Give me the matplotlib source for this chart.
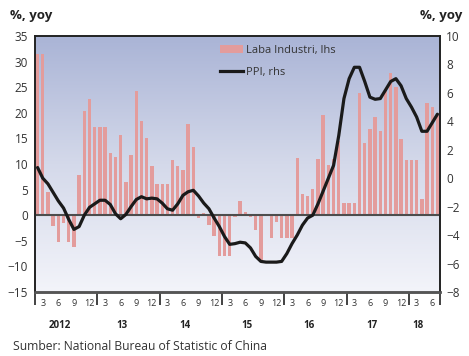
import numpy as np
import matplotlib
matplotlib.use("Agg")
import matplotlib.pyplot as plt
from matplotlib.transforms import blended_transform_factory, ScaledTranslation
from matplotlib.colors import LinearSegmentedColormap
from matplotlib.patches import Patch
from matplotlib.lines import Line2D

plt.rcParams['font.family'] = ['Open Sans', 'DejaVu Sans']

# Monthly series, Jan 2012 .. Jun 2018
year_labels = ["2012", "13", "14", "15", "16", "17", "18"]
month_ticks = [3, 6, 9, 12]

# Industrial profit growth, %, yoy (left axis)
laba_industri = [
    31.5, 31.5, 4.5, -2.1, -5.2, -1.6, -5.3, -6.2, 7.8, 20.4, 22.7, 17.3,
    17.3, 17.3, 12.1, 11.3, 15.6, 6.4, 11.7, 24.2, 18.4, 15.1, 9.7, 6.0,
    6.0, 6.0, 10.7, 9.7, 8.9, 17.9, 13.4, -0.5, 0.5, -2.0, -4.0, -7.9,
    -7.9, -7.9, -0.4, 2.7, 0.6, -0.3, -2.8, -8.8, 0.0, -4.5, -1.3, -4.5,
    -4.5, -4.5, 11.1, 4.2, 3.8, 5.1, 11.0, 19.5, 9.9, 11.0, 14.5, 2.3,
    2.3, 2.3, 23.8, 14.1, 16.8, 19.1, 16.5, 24.3, 27.7, 25.1, 14.9, 10.7,
    10.7, 10.7, 3.1, 21.9, 21.1, 20.0,
]

# Producer price index, %, yoy (right axis)
ppi = [
    0.75, 0.0, -0.4, -1.0, -1.6, -2.1, -2.9, -3.6, -3.4, -2.6, -2.05, -1.8,
    -1.55, -1.55, -1.85, -2.5, -2.85, -2.55, -2.0, -1.5, -1.3, -1.45, -1.4, -1.45,
    -1.75, -2.15, -2.25, -1.8, -1.2, -0.95, -0.85, -1.25, -1.75, -2.15, -2.8, -3.4,
    -4.1, -4.65, -4.6, -4.5, -4.55, -4.9, -5.5, -5.85, -5.9, -5.9, -5.9, -5.85,
    -5.3, -4.6, -4.0, -3.3, -2.8, -2.6, -1.8, -0.9, 0.0, 0.9, 3.0, 5.6,
    7.0, 7.8, 7.8, 6.8, 5.7, 5.55, 5.6, 6.2, 6.8, 7.0, 6.5, 5.6,
    5.0, 4.3, 3.3, 3.3, 3.9, 4.5,
]

BAR_COLOR = "#e39c9c"
LINE_COLOR = "#1a1a1a"
TEXT_COLOR = "#333333"
SPINE_COLOR = "#222222"

n = len(laba_industri)
x = np.arange(n)

fig = plt.figure(figsize=(4.69, 3.56), dpi=100)
ax = fig.add_axes([0.0746, 0.1798, 0.8636, 0.7191])

# soft vertical gradient behind the plot
grad = LinearSegmentedColormap.from_list("bg", ["#aab4d6", "#d4d9ea", "#f3f4fa"])
ax.imshow(np.linspace(0, 1, 256).reshape(-1, 1), cmap=grad, origin="upper",
          extent=[-0.5, n - 0.5, -15, 35], aspect="auto", zorder=0)

ax.bar(x, laba_industri, width=0.65, color=BAR_COLOR, linewidth=0, zorder=2)
ax.axhline(0, color="#4d4d4d", lw=1.5, zorder=3)
ax.set_xlim(-0.5, n - 0.5)
ax.set_ylim(-15, 35)
ax.set_yticks(np.arange(-15, 36, 5))

ax2 = ax.twinx()
ax2.plot(x, ppi, color=LINE_COLOR, lw=2.3, solid_joinstyle="round",
         solid_capstyle="round", zorder=4)
ax2.set_ylim(-8, 10)
ax2.set_yticks(np.arange(-8, 11, 2))
ax2.set_xlim(-0.5, n - 0.5)

for a in (ax, ax2):
    for s in a.spines.values():
        s.set_color(SPINE_COLOR)
        s.set_linewidth(1.2)
    a.spines["bottom"].set_color("#555555")
    a.spines["bottom"].set_linewidth(1.8)

ax.tick_params(axis="y", length=0, pad=5, labelsize=8.5, labelcolor=TEXT_COLOR)
ax2.tick_params(axis="y", length=0, pad=4.5, labelsize=8.5, labelcolor=TEXT_COLOR)

# year boundaries as long outward ticks
bounds = [12 * k - 0.5 for k in range(len(year_labels))] + [n - 0.5]
ax.set_xticks(bounds)
ax.set_xticklabels([])
ax.tick_params(axis="x", direction="out", length=9.5, width=1.2, color=SPINE_COLOR)

trans = blended_transform_factory(ax.transData, ax.transAxes)
month_trans = trans + ScaledTranslation(0, -8 / 72, fig.dpi_scale_trans)
year_trans = trans + ScaledTranslation(0, -24 / 72, fig.dpi_scale_trans)

for k, yl in enumerate(year_labels):
    start = 12 * k
    end = min(start + 11, n - 1)
    for m in month_ticks:
        idx = start + m - 1
        if idx < n:
            ax.text(idx - 1.0, 0, str(m), transform=month_trans, ha="center",
                    va="center", fontsize=6.5, color=TEXT_COLOR)
    ax.text((start + end) / 2 - 1.2, 0, yl, transform=year_trans, ha="center",
            va="center", fontsize=7, fontweight="bold", color="#222222")

handles = [Patch(facecolor=BAR_COLOR, edgecolor="none"),
           Line2D([], [], color=LINE_COLOR, lw=2.3)]
ax2.legend(handles, ["Laba Industri, lhs", "PPI, rhs"], loc="upper left",
           bbox_to_anchor=(0.457, 0.965), frameon=False, fontsize=8,
           handlelength=2.1, handleheight=0.65, handletextpad=0.2,
           labelspacing=1.0, borderpad=0, borderaxespad=0,
           labelcolor=TEXT_COLOR)

fig.text(10 / 469, 1 - 15 / 356, "%, yoy", fontsize=9.5, fontweight="bold",
         color="#222222", ha="left", va="center")
fig.text(462 / 469, 1 - 15 / 356, "%, yoy", fontsize=9.5, fontweight="bold",
         color="#222222", ha="right", va="center")
fig.text(13 / 469, 1 - 347 / 356, "Sumber: National Bureau of Statistic of China",
         fontsize=8.7, color=TEXT_COLOR, ha="left", va="center")

fig.savefig("out.png", dpi=100)
